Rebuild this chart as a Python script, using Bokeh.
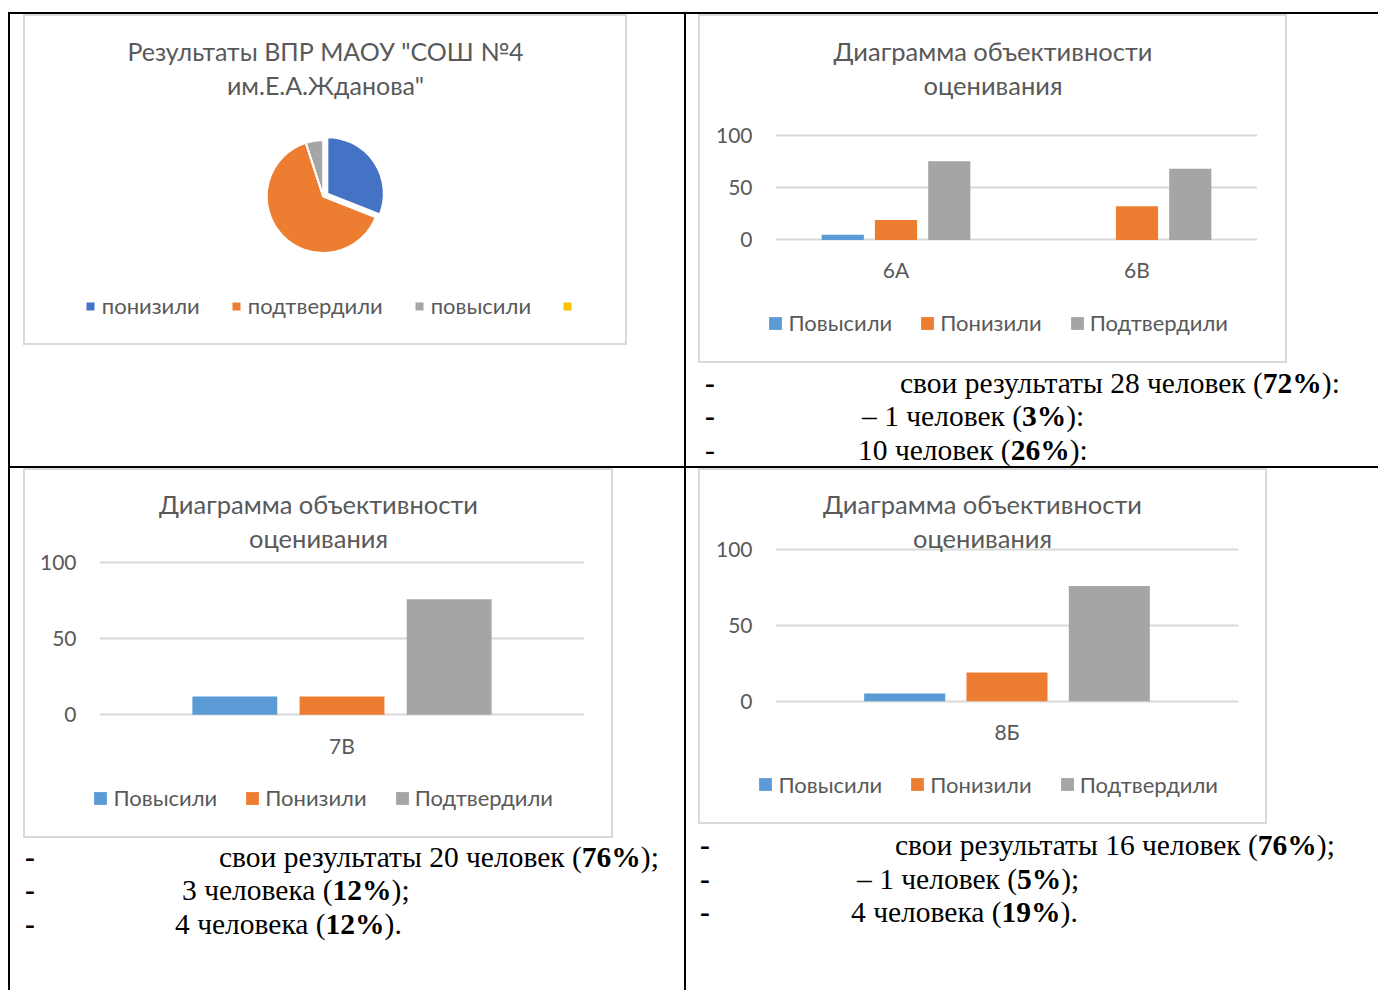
import numpy as np
from bokeh.plotting import figure
from bokeh.models import (ColumnDataSource, FactorRange, Range1d, Legend, LegendItem,
                          Label, Div, Spacer, FixedTicker)
from bokeh.transform import dodge
from bokeh.layouts import row, column
from bokeh.embed import file_html
from bokeh.resources import INLINE

# ---------------- data ----------------
pie_title = ["Результаты ВПР МАОУ \"СОШ №4", "им.Е.А.Жданова\""]
pie_labels = ["понизили", "подтвердили", "повысили", " "]
pie_values = [31, 64, 5, 0]
pie_colors = ["#4472C4", "#ED7D31", "#A5A5A5", "#FFC000"]

bar_title = ["Диаграмма объективности", "оценивания"]
series = ["Повысили", "Понизили", "Подтвердили"]
series_colors = ["#5B9BD5", "#ED7D31", "#A5A5A5"]
y_ticks = [0, 50, 100]

classes_6 = ["6А", "6В"]
up_6 = [5, 0]
down_6 = [19, 32]
same_6 = [75, 68]

classes_7 = ["7В"]
up_7 = [12]
down_7 = [12]
same_7 = [76]

classes_8 = ["8Б"]
up_8 = [5]
down_8 = [19]
same_8 = [76]

text_6 = [("свои результаты 28 человек (", "72%", "):"),
          ("– 1 человек (", "3%", "):"),
          ("10 человек (", "26%", "):")]
text_7 = [("свои результаты 20 человек (", "76%", ");"),
          ("3 человека (", "12%", ");"),
          ("4 человека (", "12%", ").")]
text_8 = [("свои результаты 16 человек (", "76%", ");"),
          ("– 1 человек (", "5%", ");"),
          ("4 человека (", "19%", ").")]

# ---------------- style ----------------
FONT = "Lato"
TXT = "#595959"
GRID = "#D9D9D9"
BOX_STYLE = {"outline": "2px solid #D9D9D9", "outline-offset": "-2px"}
LEG_SIZE = "22px"
AX_SIZE = "21px"


def add_title(p, lines, cx, baselines, size):
    for t, yb in zip(lines, baselines):
        p.add_layout(Label(x=cx, y=yb, x_units="screen", y_units="screen", text=t,
                           text_align="center", text_baseline="alphabetic",
                           text_font=FONT, text_font_size=size, text_color=TXT))


def make_legend(items, loc, glyph, standoff, spacing):
    return Legend(items=items, location=loc, orientation="horizontal",
                  glyph_width=glyph, glyph_height=glyph, label_standoff=standoff,
                  spacing=spacing, padding=0, margin=0, border_line_color=None,
                  background_fill_alpha=0, label_text_font=FONT,
                  label_text_font_size=LEG_SIZE, label_text_color=TXT)


def blank_fig(W, H, style=None):
    kw = dict(width=W, height=H, x_range=Range1d(0, W), y_range=Range1d(0, H),
              output_backend="svg", toolbar_location=None, x_axis_type=None,
              y_axis_type=None, min_border=0, title=None, frame_align=False)
    if style:
        kw["styles"] = style
    p = figure(**kw)
    p.outline_line_color = None
    p.background_fill_color = None
    p.border_fill_color = None
    return p


def legend_fig(W, H, labels, colors, loc, glyph, standoff, spacing):
    p = blank_fig(W, H)
    src = ColumnDataSource(dict(x=[0] * len(labels), y=[0] * len(labels),
                                color=colors, label=labels))
    keys = p.rect(x="x", y="y", width=0, height=0, fill_color="color", line_color=None,
                  source=src)
    items = [LegendItem(label=lab, renderers=[keys], index=i) for i, lab in enumerate(labels)]
    p.add_layout(make_legend(items, loc, glyph, standoff, spacing))
    return p


def bar_chart(cats, up, down, same, W, H_box, left, right, y0_px, y100_px, frame_h,
              title_cx, title_base, leg_loc, x_standoff):
    # pixel anchors of the 0 and 100 gridlines inside the chart box
    ppu = (y0_px - y100_px) / 100.0
    y_start = -(frame_h - y0_px) / ppu
    y_end = y0_px / ppu
    bottom_border = 50
    p = figure(x_range=FactorRange(factors=cats), y_range=Range1d(y_start, y_end),
               width=W, height=frame_h + bottom_border, output_backend="svg",
               toolbar_location=None, min_border_left=left, min_border_right=right,
               min_border_top=0, min_border_bottom=bottom_border, frame_align=False)
    p.outline_line_color = None
    p.background_fill_color = None
    p.border_fill_color = None
    src = ColumnDataSource(dict(cat=cats, up=up, down=down, same=same))
    offs = [-0.221, 0.0, 0.221]
    cols = ["up", "down", "same"]
    for c, off, col in zip(series_colors, offs, cols):
        p.vbar(x=dodge("cat", off, range=p.x_range), top=col, bottom=0, width=0.175,
               source=src, fill_color=c, line_color=None)
    p.yaxis.ticker = FixedTicker(ticks=y_ticks)
    p.ygrid.grid_line_color = GRID
    p.ygrid.grid_line_width = 2
    p.xgrid.grid_line_color = None
    for ax in (p.xaxis, p.yaxis):
        ax.axis_line_color = None
        ax.major_tick_line_color = None
        ax.minor_tick_line_color = None
        ax.major_tick_out = 0
        ax.major_tick_in = 0
        ax.major_label_text_font = FONT
        ax.major_label_text_font_size = AX_SIZE
        ax.major_label_text_color = TXT
    p.yaxis.major_label_standoff = 23
    p.xaxis.major_label_standoff = x_standoff
    add_title(p, bar_title, title_cx, title_base, "25.5px")
    leg_h = H_box - frame_h - bottom_border
    lf = legend_fig(W, leg_h, series, series_colors, leg_loc, 16, 5, 27)
    return column(p, lf, spacing=0, styles=BOX_STYLE)


# ---- pie chart (top-left) ----
PW, PH = 604, 331
p0 = blank_fig(PW, PH, BOX_STYLE)
PCX, PCY, PR = 299.7, 149, 56.5
vals = np.array(pie_values, dtype=float)
fr = np.concatenate([[0.0], np.cumsum(vals)]) / vals.sum()
start = np.pi / 2 - fr[:-1] * 2 * np.pi
end = np.pi / 2 - fr[1:] * 2 * np.pi
mid = (start + end) / 2
explode = np.array([5, 0, 0, 0])
keep = vals > 0
pie_src = ColumnDataSource(dict(
    x=(PCX + explode * np.cos(mid))[keep], y=(PCY + explode * np.sin(mid))[keep],
    start=start[keep], end=end[keep], color=np.array(pie_colors)[keep]))
p0.wedge(x="x", y="y", radius=PR, start_angle="start", end_angle="end",
         direction="clock", fill_color="color", line_color=None, source=pie_src)
p0.wedge(x="x", y="y", radius=PR, start_angle="start", end_angle="end",
         direction="clock", fill_color=None, line_color="white", line_width=2,
         source=pie_src)
key_src = ColumnDataSource(dict(x=[PCX] * len(pie_labels), y=[PCY] * len(pie_labels),
                                color=pie_colors, label=pie_labels))
keys = p0.rect(x="x", y="y", width=0, height=0, fill_color="color", line_color=None,
               source=key_src)
pie_items = [LegendItem(label=lab, renderers=[keys], index=i)
             for i, lab in enumerate(pie_labels)]
add_title(p0, pie_title, 302, [294.3, 261], "25px")
p0.add_layout(make_legend(pie_items, (61.8, 26), 10, 7, 31))

# ---- bar charts (box-relative pixel anchors) ----
# top-right box: 698..1287 x 14..363
c1 = bar_chart(classes_6, up_6, down_6, same_6, 589, 349, 77, 30,
               239.4 - 14, 134.6 - 14, 229,
               217.5, [192.3, 159], (69.4, 27), 13)
# bottom-left box: 23..613 x 468..838
c2 = bar_chart(classes_7, up_7, down_7, same_7, 590, 370, 76, 29,
               714.2 - 468, 562.4 - 468, 251,
               219, [216, 181.4], (69.4, 27), 13)
# bottom-right box: 698..1267 x 468..824
c3 = bar_chart(classes_8, up_8, down_8, same_8, 569, 356, 77, 29,
               700.7 - 468, 549 - 468, 237,
               207, [202, 167.4], (59.4, 26.4), 13)


# ---- text blocks ----
def text_div(lines, W, H, dash_x, text_x, ys, dash_bold):
    html = ['<div style="position:relative;width:%dpx;height:%dpx;'
            'font-family:\'Liberation Serif\',\'Times New Roman\',serif;'
            'font-size:29.5px;line-height:34px;color:#000;">' % (W, H)]
    for (pre, b, post), tx, yc, db in zip(lines, text_x, ys, dash_bold):
        top = yc - 17
        html.append('<span style="position:absolute;left:%dpx;top:%dpx;font-weight:%s;">-</span>'
                    % (dash_x, top, "bold" if db else "normal"))
        html.append('<span style="position:absolute;left:%dpx;top:%dpx;white-space:nowrap;">'
                    '%s<b>%s</b>%s</span>' % (tx, top, pre, b, post))
    html.append('</div>')
    return Div(text="".join(html), width=W, height=H, margin=0)


d1 = text_div(text_6, 692, 103, 19, [214, 176, 172], [20, 53, 87], [True, True, False])
d2 = text_div(text_7, 674, 152, 15, [209, 172, 165], [19, 52, 86], [True, True, True])
d3 = text_div(text_8, 692, 166, 14, [209, 171, 165], [21, 55, 88], [True, True, True])


def vline(h):
    return Spacer(width=2, height=h, margin=0, styles={"background-color": "black"})


def hline(w):
    return Spacer(width=w, height=2, margin=0, styles={"background-color": "black"})


def sp(w, h):
    return Spacer(width=w, height=h, margin=0)


TOP_H, BOT_H = 452, 522
cell_tl = column(row(sp(13, PH), p0, spacing=0), sp(674, TOP_H - PH), spacing=0)
cell_tr = column(row(sp(12, 349), c1, spacing=0), d1, spacing=0)
cell_bl = column(row(sp(13, 370), c2, spacing=0), d2, spacing=0)
cell_br = column(row(sp(12, 356), c3, spacing=0), d3, spacing=0)

top_row = row(sp(8, TOP_H), vline(TOP_H), cell_tl, vline(TOP_H), cell_tr, spacing=0)
bot_row = row(sp(8, BOT_H), vline(BOT_H), cell_bl, vline(BOT_H), cell_br, spacing=0)

layout = column(sp(1378, 12), row(sp(8, 2), hline(1370), spacing=0), top_row,
                row(sp(8, 2), hline(1370), spacing=0), bot_row, spacing=0)

open("out.html", "w").write(file_html(layout, INLINE, title="chart"))
